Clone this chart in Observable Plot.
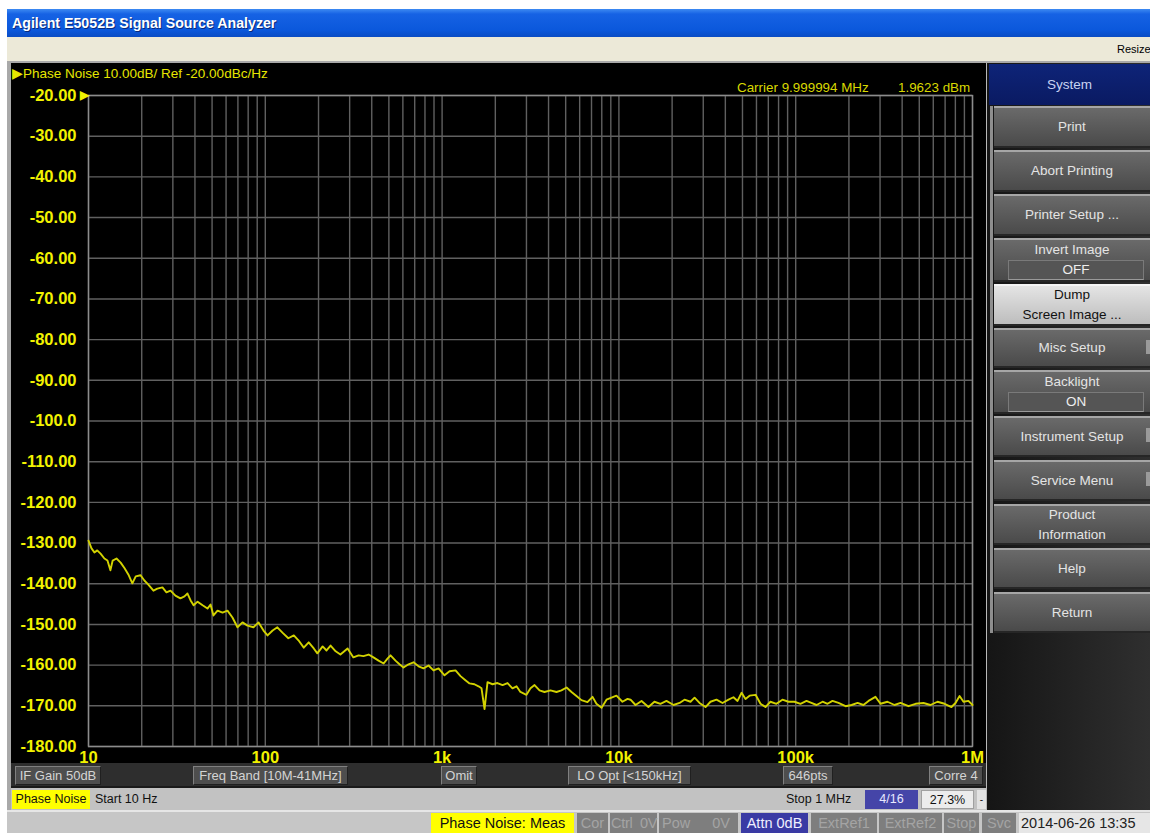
<!DOCTYPE html>
<html><head><meta charset="utf-8">
<script src="https://cdn.jsdelivr.net/npm/d3@7"></script>
<script src="https://cdn.jsdelivr.net/npm/@observablehq/plot@0.6"></script>
<style>
body{margin:0;background:#fff;font-family:"Liberation Sans",Arial,sans-serif;}
#root{position:relative;width:1150px;height:833px;overflow:hidden;background:#fff;}
.abs{position:absolute;box-sizing:border-box;white-space:nowrap;}
</style></head><body><div id="root"></div>
<script>
// ---- data ----
const freqHz = [10,10.4,10.8,11.2,11.7,12.3,12.8,13.3,13.7,14.4,15.2,16.0,16.8,17.7,18.5,19.7,
20.7,21.8,23.3,24.5,26.2,27.6,29.1,31.0,33.1,34.9,36.3,37.8,39.3,41.4,44.2,47.1,49.0,50.9,53.7,57.3,61.1,65.2,69.6,74.3,79.3,85.7,91.6,97.7,
103,110,117,125,135,145,154,165,176,188,197,211,222,234,250,266,292,315,337,359,384,409,437,467,491,511,545,574,605,646,689,736,785,838,894,955,
1032,1102,1191,1271,1355,1429,1524,1607,1671,1738,1807,1928,2056,2198,2344,2500,2636,2773,3000,3162,3334,3556,3793,4102,4436,4732,5058,5395,5754,6138,6637,7096,7464,7980,8511,9078,9683,
10471,11194,11641,12417,13428,14690,15885,17179,18578,20370,22029,23496,25410,26792,28576,30903,32961,35645,38548,41687,44463,46881,49431,52003,54828,59293,63241,67453,71945,77804,84140,90991,98401,
106414,115080,122744,131222,141906,151356,161436,174582,191426,207014,223872,241546,258226,282488,301995,330369,362243,391742,434510,476431,528445,578096,633870,695024,760326,801678,845279,889201,948418,1000000];
const noiseDbc = [-129.4,-131.3,-132.3,-131.8,-132.6,-133.8,-134.3,-136.7,-134.3,-133.8,-134.8,-136.2,-137.7,-139.9,-138.2,-137.9,
-139.2,-140.2,-141.7,-141.2,-140.9,-142.1,-141.7,-142.9,-143.6,-143.1,-142.4,-144.1,-145.3,-144.4,-145.3,-146.1,-145.1,-147.8,-146.6,-147.1,-146.6,-148.3,-150.7,-149.5,-150.3,-150.7,-149.5,-151.5,
-152.7,-151.5,-150.7,-152.0,-153.4,-152.7,-153.9,-155.7,-154.4,-155.9,-157.1,-155.4,-156.4,-155.2,-156.6,-157.4,-155.9,-158.1,-157.6,-157.8,-157.4,-158.1,-158.9,-159.6,-158.4,-157.6,-158.9,-159.8,-160.6,-159.8,-159.3,-160.3,-160.8,-160.1,-161.3,-160.8,
-162.5,-161.5,-161.3,-162.7,-163.7,-164.5,-164.7,-165.2,-165.7,-170.8,-164.2,-164.7,-164.4,-164.9,-164.4,-165.7,-165.2,-166.6,-167.3,-165.7,-164.9,-166.2,-166.6,-166.2,-166.6,-166.2,-165.5,-166.6,-167.6,-168.6,-169.1,-167.8,-169.5,-170.5,-168.5,-168.0,-167.5,
-169.0,-168.3,-168.5,-169.8,-168.8,-170.3,-169.0,-169.5,-168.8,-169.8,-169.3,-168.5,-169.0,-168.0,-169.3,-170.3,-169.0,-168.5,-169.3,-168.5,-167.9,-168.8,-166.8,-168.3,-167.5,-167.3,-169.5,-170.3,-169.0,-169.5,-168.5,-169.0,-169.0,
-169.5,-168.8,-169.3,-169.8,-169.0,-169.5,-168.8,-169.3,-170.1,-169.8,-169.3,-169.8,-168.8,-167.8,-169.5,-169.0,-169.8,-169.3,-170.1,-169.5,-169.3,-169.8,-169.0,-169.5,-170.3,-169.3,-167.6,-169.0,-168.8,-169.8];
const xTicks = [10, 100, 1000, 10000, 100000, 1000000];
const xTickLabels = ["10", "100", "1k", "10k", "100k", "1M"];
const yTicks = [-20,-30,-40,-50,-60,-70,-80,-90,-100,-110,-120,-130,-140,-150,-160,-170,-180];
const yTickLabels = ["-20.00","-30.00","-40.00","-50.00","-60.00","-70.00","-80.00","-90.00","-100.0","-110.00","-120.00","-130.00","-140.00","-150.00","-160.00","-170.00","-180.00"];
const decades = [10, 100, 1000, 10000, 100000];
const gridMultipliers = [1,2,3,4,5,6,7,8,9];
const refLevel = [-20];

const rows = freqHz.map((f, i) => ({f, db: noiseDbc[i]}));
const gridFreqs = decades.flatMap(d => gridMultipliers.map(m => d * m)).concat([1000000]);

const root = document.getElementById("root");
function box(left, top, width, height, style, text) {
  const d = document.createElement("div");
  d.className = "abs";
  Object.assign(d.style, {left: left + "px", top: top + "px", width: width + "px", height: height + "px"}, style || {});
  if (text != null) d.innerHTML = text;
  root.appendChild(d);
  return d;
}

// window chrome
box(7, 9, 1143, 28, {background: "linear-gradient(to bottom,#3d8af2 0%,#1662e4 18%,#0b58dc 75%,#0a4cc4 100%)",
  color: "#fff", font: "bold 14.2px 'Liberation Sans',Arial,sans-serif", lineHeight: "28px", paddingLeft: "5px",
  textShadow: "1px 1px 0 #0a2a7a"}, "Agilent E5052B Signal Source Analyzer");
box(7, 37, 1143, 24, {background: "#ece9d8"});
box(1117, 37, 40, 24, {font: "11px 'Liberation Sans',Arial,sans-serif", lineHeight: "24px", color: "#000"}, "Resize");
box(7, 61, 1143, 772, {background: "#a9a9a9"});

// plot
const plot = Plot.plot({
  width: 975, height: 702,
  marginLeft: 77, marginRight: 14, marginTop: 32, marginBottom: 19,
  style: {background: "#000", color: "#f2f200", fontFamily: "'Liberation Sans',Arial,sans-serif", fontSize: "16.5px", fontWeight: "bold", overflow: "visible"},
  x: {type: "log", domain: [10, 1000000], ticks: xTicks, tickFormat: d => xTickLabels[xTicks.indexOf(d)], tickSize: 0, tickPadding: 5, label: null},
  y: {domain: [-180, -20], ticks: yTicks, tickFormat: d => yTickLabels[yTicks.indexOf(d)], tickSize: 0, tickPadding: 12, label: null},
  marks: [
    Plot.ruleX(gridFreqs, {stroke: "#606060", strokeWidth: 1.4}),
    Plot.ruleY(yTicks, {stroke: "#606060", strokeWidth: 1.4}),
    Plot.frame({stroke: "#8c8c8c", strokeWidth: 1.4}),
    Plot.line(rows, {x: "f", y: "db", stroke: "#d2d200", strokeWidth: 1.9}),
    Plot.text(refLevel, {x: () => 10, y: d => d, text: () => "▶", dx: 0, textAnchor: "end", fill: "#f2f200", fontSize: 11.5})
  ]
});
const holder = box(11, 63, 975, 702, {overflow: "visible"});
holder.appendChild(plot);

const yel = "#e6e600";
box(12, 65, 320, 18, {color: yel, font: "13.5px 'Liberation Sans',Arial,sans-serif", lineHeight: "18px"}, "▶Phase Noise 10.00dB/ Ref -20.00dBc/Hz");
box(737, 79, 150, 18, {color: "#d8d800", font: "13.4px 'Liberation Sans',Arial,sans-serif", lineHeight: "18px"}, "Carrier 9.999994 MHz");
box(898, 79, 90, 18, {color: "#d8d800", font: "13.4px 'Liberation Sans',Arial,sans-serif", lineHeight: "18px"}, "1.9623 dBm");

// labels row
box(11, 763, 975, 25, {background: "#2e2e2e", borderBottom: "2px solid #1a1a1a"});
const lab = {background: "#4e4e4e", color: "#d4d4d4", font: "13px 'Liberation Sans',Arial,sans-serif", lineHeight: "17px",
  textAlign: "center", borderTop: "1px solid #808080", borderLeft: "1px solid #808080", borderRight: "1px solid #202020", borderBottom: "1px solid #202020"};
[["IF Gain 50dB", 15, 86], ["Freq Band [10M-41MHz]", 193, 155], ["Omit", 441, 36], ["LO Opt [&lt;150kHz]", 568, 123], ["646pts", 783, 50], ["Corre 4", 929, 54]]
  .forEach(([t, l, w]) => box(l, 766, w, 19, lab, t));

// status row
box(11, 788, 975, 22, {background: "#c2c2c2"});
const st = {font: "12.5px 'Liberation Sans',Arial,sans-serif", lineHeight: "19px", color: "#111"};
box(12, 790, 78, 19, Object.assign({background: "#ffff00", textAlign: "center"}, st), "Phase Noise");
box(95, 790, 80, 19, st, "Start 10 Hz");
box(786, 790, 78, 19, st, "Stop 1 MHz");
box(865, 790, 53, 19, Object.assign({}, st, {background: "#4545a8", color: "#e8e8ff", textAlign: "center"}), "4/16");
box(921, 790, 53, 19, Object.assign({}, st, {background: "#ececec", textAlign: "center", border: "1px solid #a0a0a0"}), "27.3%");
box(977, 790, 9, 19, Object.assign({}, st, {background: "#e2e2e2", textAlign: "center", fontSize: "10px"}), "-");

// right softkey panel
box(986, 63, 164, 748, {background: "linear-gradient(to right,#151515,#2f2f2f)", borderLeft: "1px solid #b8b8b8"});
box(989, 64, 161, 41, {background: "linear-gradient(to bottom,#0e2478,#0a1a62)", color: "#c8d2f2",
  font: "13.5px 'Liberation Sans',Arial,sans-serif", lineHeight: "41px", textAlign: "center"}, "System");
box(990, 106, 3, 527, {background: "#8e8e8e"});
const keys = [
  [["Print"], 106, 42], [["Abort Printing"], 150, 42], [["Printer Setup ..."], 194, 42],
  [["Invert Image"], 238, 44, "OFF"], [["Dump", "Screen Image ..."], 284, 42, null, true],
  [["Misc Setup"], 328, 40], [["Backlight"], 370, 44, "ON"], [["Instrument Setup"], 416, 41],
  [["Service Menu"], 460, 41], [["Product", "Information"], 504, 41], [["Help"], 548, 41], [["Return"], 592, 41]
];
keys.forEach(([lines, top, h, sub, hi]) => {
  const b = box(994, top, 156, h, {
    background: hi ? "linear-gradient(to bottom,#e4e4e4,#bdbdbd)" : "linear-gradient(to bottom,#6a6a6a,#4a4a4a)",
    borderTop: hi ? "2px solid #f4f4f4" : "2px solid #a6a6a6", borderBottom: "2px solid #262626",
    color: hi ? "#111" : "#e4e4e4", font: "13.5px 'Liberation Sans',Arial,sans-serif", textAlign: "center"});
  if (sub) {
    b.innerHTML = `<div style="line-height:20px;margin-top:0px">${lines[0]}</div>` +
      `<div style="margin:0 6px 0 14px;height:18px;line-height:17px;background:#555;border:1px solid #7a7a7a;border-bottom-color:#9a9a9a;color:#eee">${sub}</div>`;
  } else if (lines.length === 2) {
    b.innerHTML = `<div style="line-height:20px;margin-top:-1px">${lines[0]}<br>${lines[1]}</div>`;
  } else {
    b.style.lineHeight = (h - 4) + "px";
    b.textContent = lines[0];
  }
});
[328, 416, 460].forEach(t => box(1146, t + 12, 4, 14, {background: "#9a9a9a"}));

// bottom status bar
box(7, 810, 1143, 23, {background: "#c6c6c6", borderTop: "2px solid #e6e6e6"});
const bb = {font: "14.5px 'Liberation Sans',Arial,sans-serif", lineHeight: "20px", textAlign: "center"};
const grayKey = Object.assign({}, bb, {background: "#7e7e7e", color: "#a4a4a4"});
box(431, 813, 143, 20, Object.assign({}, bb, {background: "#ffff00", color: "#111"}), "Phase Noise: Meas");
box(577, 813, 31, 20, grayKey, "Cor");
box(610, 813, 47, 20, Object.assign({}, grayKey, {textAlign: "left", paddingLeft: "1px", wordSpacing: "4px", letterSpacing: "-0.3px"}), "Ctrl 0V");
box(659, 813, 79, 20, Object.assign({}, grayKey, {textAlign: "left", paddingLeft: "3px", wordSpacing: "18px"}), "Pow 0V");
box(741, 813, 67, 20, Object.assign({}, bb, {background: "#3a3aa4", color: "#f0f0ff"}), "Attn 0dB");
box(811, 813, 66, 20, grayKey, "ExtRef1");
box(879, 813, 63, 20, grayKey, "ExtRef2");
box(944, 813, 35, 20, grayKey, "Stop");
box(982, 813, 34, 20, grayKey, "Svc");
box(1019, 813, 140, 20, Object.assign({}, bb, {background: "#e6e6e6", color: "#222", textAlign: "left", paddingLeft: "2px"}), "2014-06-26 13:35");
</script></body></html>
